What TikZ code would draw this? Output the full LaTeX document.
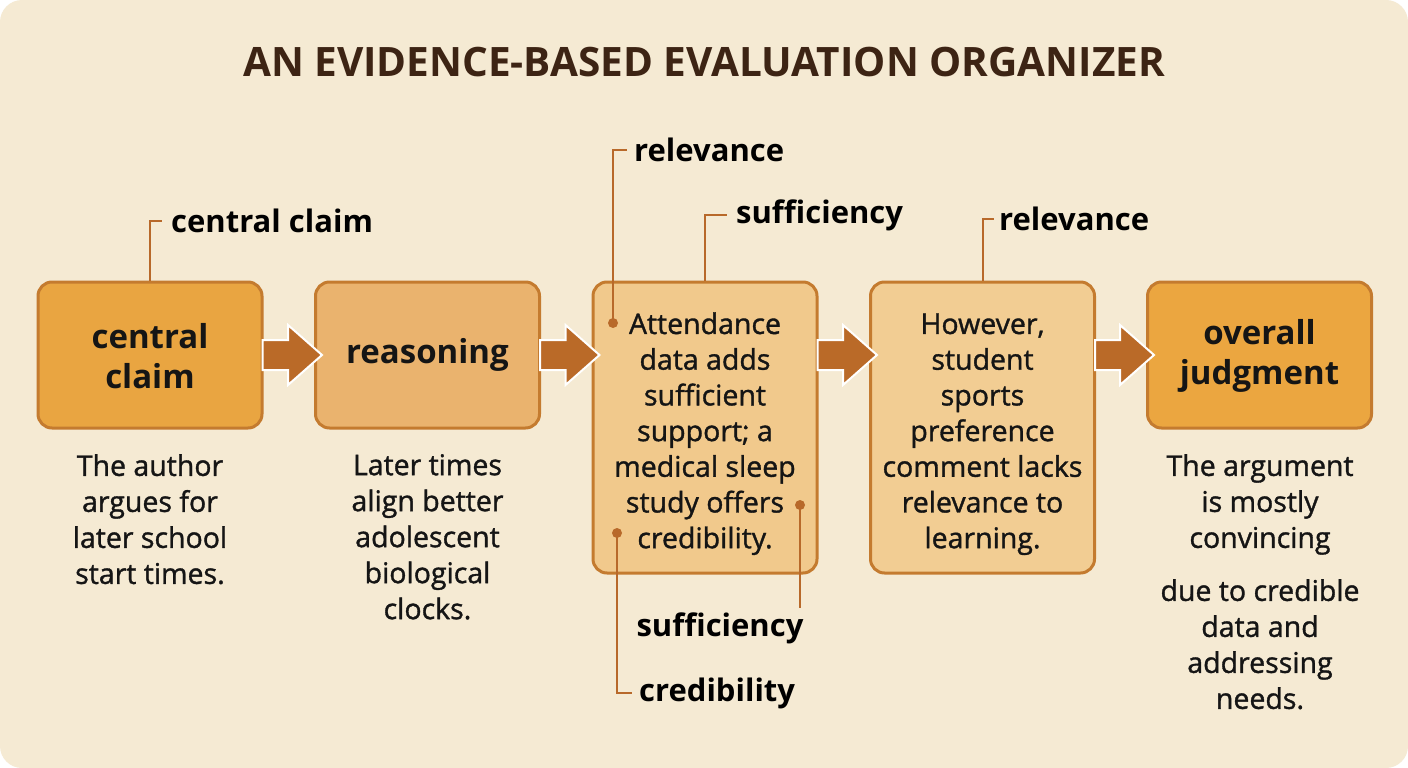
\documentclass[tikz,border=0pt]{standalone}
\usepackage{fontspec}
\setmainfont{Open Sans}
\newfontfamily\medfont[FakeBold=1.2]{Open Sans}
\usetikzlibrary{calc}
\definecolor{bgc}{HTML}{F5EAD3}
\definecolor{bordc}{HTML}{C47B2F}
\definecolor{boxa}{HTML}{E9A541}
\definecolor{boxb}{HTML}{EAB36E}
\definecolor{boxc}{HTML}{F1C98C}
\definecolor{boxd}{HTML}{F2CD93}
\definecolor{boxe}{HTML}{EBA640}
\definecolor{arrc}{HTML}{BA6A28}
\definecolor{leadc}{HTML}{B8692A}
\definecolor{titlec}{HTML}{3D2414}
\definecolor{txtc}{HTML}{151515}
\newcommand{\toppad}{\rule{0pt}{34pt}}
\tikzset{
  stagebox/.style={draw=bordc, line width=3pt, rounded corners=14pt, minimum width=224pt, align=center, inner sep=0pt, text=txtc},
  shortbox/.style={stagebox, minimum height=146pt, font=\fontsize{33}{40}\selectfont\bfseries},
  tallbox/.style={stagebox, minimum height=291pt, font=\medfont\fontsize{28.5}{35.7}\selectfont},
  desc/.style={anchor=north, align=center, inner sep=0pt, text=txtc, font=\medfont\fontsize{28.5}{36}\selectfont},
  tag/.style={anchor=west, inner sep=0pt, text=black, font=\fontsize{31}{34}\selectfont\bfseries},
  lead/.style={draw=leadc, line width=2pt},
  leaddot/.style={fill=leadc},
  blockarrow/.style={fill=arrc, draw=white, line width=2pt, line join=miter}
}
\newcommand{\barrow}[2]{%
  \path[blockarrow] ($(#1.east |- c1.center)+(-1,15)$) -- ($(#2.west |- c1.center)+(-26,15)$) -- ($(#2.west |- c1.center)+(-26,30)$) -- ($(#2.west |- c1.center)+(8,0)$) -- ($(#2.west |- c1.center)+(-26,-30)$) -- ($(#2.west |- c1.center)+(-26,-15)$) -- ($(#1.east |- c1.center)+(-1,-15)$) -- cycle;}
\begin{document}
\begin{tikzpicture}[x=1pt,y=-1pt]
\useasboundingbox (0,0) rectangle (1408,768);
\fill[white] (0,0) rectangle (1408,768);
\fill[bgc, rounded corners=22pt] (0,0) rectangle (1408,768);
\node[text=titlec, font=\fontsize{40.5}{46}\selectfont\bfseries] (title) at (704,62) {AN EVIDENCE-BASED EVALUATION ORGANIZER};

\node[shortbox, fill=boxa] (c1) at (150,355) {\rule{0pt}{27pt}central\\claim};
\node[shortbox, fill=boxb] (c2) at (427.5,355) {reasoning};
\node[tallbox, fill=boxc] (c3) at (705,427.5) {\toppad Attendance\\data adds\\sufficient\\support; a\\medical sleep\\study offers\\credibility.};
\node[tallbox, fill=boxd] (c4) at (982.5,427.5) {\toppad However,\\student\\sports\\preference\\comment lacks\\relevance to\\learning.};
\node[shortbox, fill=boxe] (c5) at (1259.5,355) {\rule{0pt}{27pt}overall\\judgment};

\barrow{c1}{c2}
\barrow{c2}{c3}
\barrow{c3}{c4}
\barrow{c4}{c5}

% descriptions
\node[desc] (t1) at (150,454) {The author\\argues for\\later school\\start times.};
\node[desc] (t2) at (427.5,454) {Later times\\align better\\adolescent\\biological\\clocks.};
\node[desc] (t5) at (1260,454) {The argument\\is mostly\\convincing};
\node[desc] (t6) at (1260,579) {due to credible\\data and\\addressing\\needs.};

% tags
\node[tag] (l1) at (171,221) {central claim};
\node[tag] (l2) at (634,150) {relevance};
\node[tag] (l3) at (736,215) {sufficiency};
\node[tag] (l4) at (999,219) {relevance};
\node[tag, anchor=center] (l5) at (720,628) {sufficiency};
\node[tag] (l6) at (639,693) {credibility};

\coordinate (d1) at (613,323);
\coordinate (d2) at (800,505);
\coordinate (d3) at (617,533);
\coordinate (e2) at (800,608);

\draw[lead] (c1.north) |- ([xshift=-9pt]l1.west);
\draw[lead] (d1) |- ([xshift=-7pt]l2.west);
\draw[lead] (c3.north) |- ([xshift=-9pt]l3.west);
\draw[lead] (c4.north) |- ([xshift=-5pt]l4.west);
\draw[lead] (d2) -- (e2);
\draw[lead] (d3) |- ([xshift=-7pt]l6.west);
\fill[leaddot] (d1) circle (5pt);
\fill[leaddot] (d2) circle (5pt);
\fill[leaddot] (d3) circle (5pt);
\end{tikzpicture}
\end{document}
